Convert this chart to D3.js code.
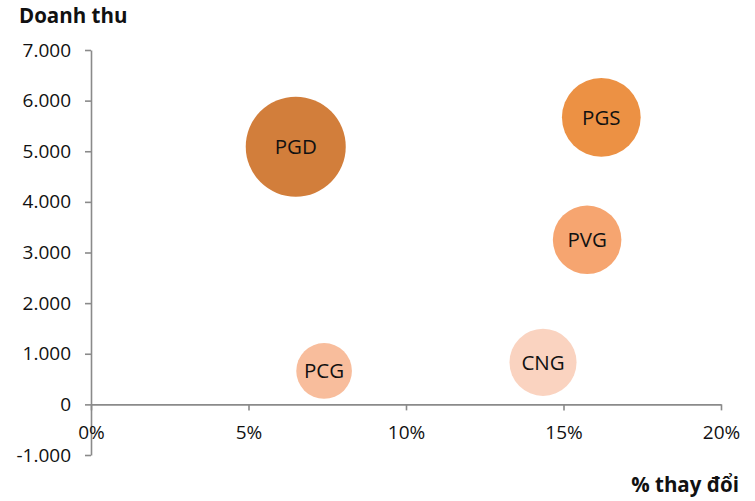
<!DOCTYPE html>
<html>
<head>
<meta charset="utf-8">
<script src="https://cdn.jsdelivr.net/npm/d3@7"></script>
<style>
  body { margin: 0; background: #fff; }
  svg text { font-family: "Open Sans", sans-serif; fill: #111; }
</style>
</head>
<body>
<svg id="svg" width="755" height="501"></svg>
<script>
const width = 755;
const height = 501;
const axisColor = '#8a8a8a';
const fontSize = 19;
const labelSize = 20.5;
const titleSize = 20.5;

const paddings = {
	left: 91,
	top: 50,
	right: 34,
	bottom: 46
};

// data
const companies = ['PGD', 'PGS', 'PVG', 'CNG', 'PCG'];
const changes = [6.5, 16.2, 15.75, 14.35, 7.4];       // % thay đổi
const revenues = [5090, 5670, 3250, 830, 660];        // Doanh thu
const sizes = [100, 62, 47, 45, 31];                  // bubble size
const colors = ['#d27e3b', '#ec9144', '#f6a570', '#fad3c0', '#f8bd9c'];
const xTicks = [0, 5, 10, 15, 20];
const yTicks = [-1000, 0, 1000, 2000, 3000, 4000, 5000, 6000, 7000];

const points = companies.map((c, i) => ({
	name: c, x: changes[i], y: revenues[i], size: sizes[i], color: colors[i]
}));

const locale = d3.formatLocale({
	decimal: ',', thousands: '.', grouping: [3], currency: ['', ''], minus: '-'
});
const yFormat = locale.format(',');

const svg = d3.select('#svg');
let xScale, yScale, rScale;

generateAxis();
renderData();
renderTitles();

function generateAxis() {
	xScale = d3.scaleLinear()
		.domain([0, 20])
		.range([paddings.left, width - paddings.right]);

	yScale = d3.scaleLinear()
		.domain([-1000, 7000])
		.range([455, paddings.top]);

	rScale = d3.scaleSqrt()
		.domain([0, 100])
		.range([0, 50]);

	const xAxis = d3.axisBottom(xScale)
		.tickValues(xTicks)
		.tickSize(6)
		.tickSizeOuter(0)
		.tickPadding(15)
		.tickFormat(d => d + '%');

	const yAxis = d3.axisLeft(yScale)
		.tickValues(yTicks)
		.tickSize(6)
		.tickSizeOuter(0)
		.tickPadding(14)
		.tickFormat(yFormat);

	svg.append('g')
		.attr('class', 'y-axis-group')
		.attr('transform', 'translate(' + paddings.left + ',0)')
		.call(yAxis);

	svg.append('g')
		.attr('class', 'x-axis-group')
		.attr('transform', 'translate(0,' + yScale(0) + ')')
		.call(xAxis);

	svg.selectAll('.domain, .tick line')
		.attr('stroke', axisColor)
		.attr('stroke-width', 1.6);

	svg.selectAll('.tick text')
		.style('font-size', fontSize + 'px')
		.attr('fill', '#111');
}

function renderData() {
	const g = svg.append('g').classed('bubbles', true);

	g.selectAll('circle')
		.data(points)
		.enter()
		.append('circle')
		.attr('cx', d => xScale(d.x))
		.attr('cy', d => yScale(d.y))
		.attr('r', d => rScale(d.size))
		.attr('fill', d => d.color);

	g.selectAll('text')
		.data(points)
		.enter()
		.append('text')
		.attr('x', d => xScale(d.x))
		.attr('y', d => yScale(d.y))
		.attr('dy', '0.36em')
		.attr('text-anchor', 'middle')
		.style('font-size', labelSize + 'px')
		.text(d => d.name);
}

function renderTitles() {
	svg.append('text')
		.attr('x', 19)
		.attr('y', 23)
		.style('font-size', titleSize + 'px')
		.style('font-weight', 'bold')
		.text('Doanh thu');

	svg.append('text')
		.attr('x', 739)
		.attr('y', 492)
		.attr('text-anchor', 'end')
		.style('font-size', titleSize + 'px')
		.style('font-weight', 'bold')
		.text('% thay đổi');
}
</script>
</body>
</html>
